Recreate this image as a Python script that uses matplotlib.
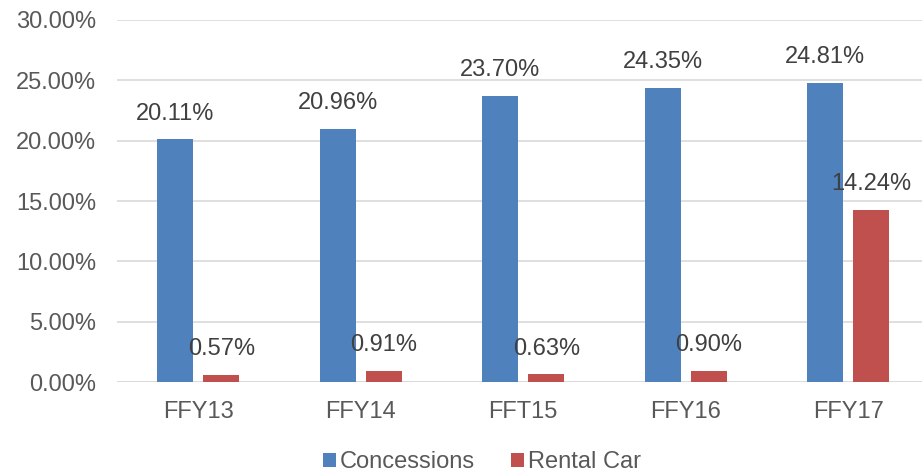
import matplotlib.pyplot as plt
import numpy as np

plt.rcParams['font.family'] = ['Liberation Sans', 'DejaVu Sans']

# données
annees = ["FFY13", "FFY14", "FFT15", "FFY16", "FFY17"]
concessions = [20.11, 20.96, 23.70, 24.35, 24.81]
location_voiture = [0.57, 0.91, 0.63, 0.90, 14.24]

BLEU = "#4F81BD"
ROUGE = "#C0504D"
GRIS_TEXTE = "#404040"
GRIS_AXES = "#595959"
TAILLE = 17

fig = plt.figure(figsize=(9.22, 4.73), dpi=100)
ax = fig.add_axes([117 / 922, 1 - 382 / 473, 1 - 117 / 922, 362 / 473])

x = np.arange(len(annees))
largeur = 0.222
decal = 0.142

b1 = ax.bar(x - decal, concessions, largeur, color=BLEU, label="Concessions", zorder=3)
b2 = ax.bar(x + decal, location_voiture, largeur, color=ROUGE, label="Rental Car", zorder=3)

# étiquettes de valeurs
for barres, vals in [(b1, concessions), (b2, location_voiture)]:
    for rect, v in zip(barres, vals):
        ax.annotate(f"{v:.2f}%", (rect.get_x() + rect.get_width() / 2, v),
                    xytext=(0, 18.5), textcoords="offset points",
                    ha="center", va="center", fontsize=TAILLE, color=GRIS_TEXTE, zorder=4)

ax.set_ylim(0, 30)
ax.set_xlim(-0.5, -0.5 + 805 / 162.5)
ax.set_yticks(np.arange(0, 30.1, 5))
ax.set_yticklabels([f"{t:.2f}%" for t in np.arange(0, 30.1, 5)])
ax.set_xticks(x)
ax.set_xticklabels(annees)

ax.grid(axis="y", color="#D9D9D9", linewidth=1.2, zorder=0)
for s in ax.spines.values():
    s.set_visible(False)
ax.axhline(0, color="#D9D9D9", linewidth=1.2, zorder=2)
ax.tick_params(axis="both", length=0, labelsize=TAILLE, colors=GRIS_AXES)
ax.tick_params(axis="y", pad=15)
ax.tick_params(axis="x", pad=14)

fig.legend(handles=[b1, b2], loc="center", bbox_to_anchor=(482 / 922, 1 - 462 / 473),
           ncol=2, frameon=False, fontsize=TAILLE, handlelength=0.55, handleheight=0.55,
           handletextpad=0.2, columnspacing=1.5, labelcolor=GRIS_AXES,
           borderpad=0, borderaxespad=0)

fig.savefig("out.png", dpi=100)
